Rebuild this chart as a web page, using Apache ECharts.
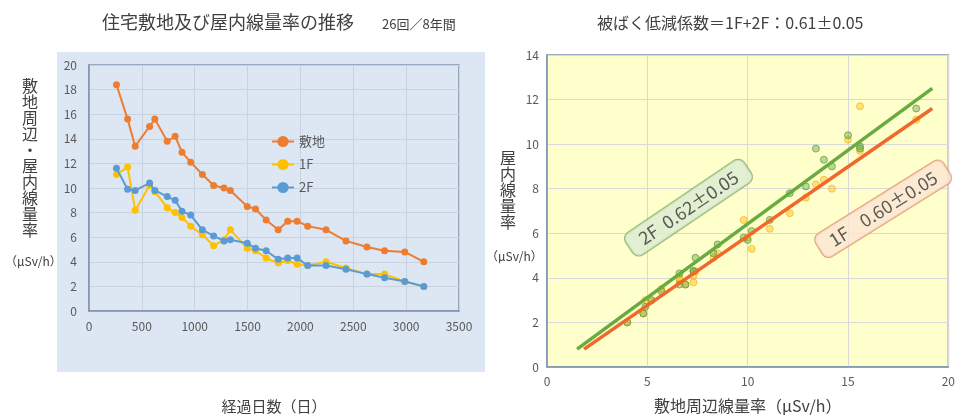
<!DOCTYPE html>
<html>
<head>
<meta charset="utf-8">
<script src="https://cdn.jsdelivr.net/npm/echarts@6/dist/echarts.min.js"></script>
<style>
  html, body { margin: 0; padding: 0; background: #ffffff; }
  #chart { width: 958px; height: 419px; }
</style>
</head>
<body>
<div id="chart"></div>
<script>
// Elapsed days of each of the 26 measurements
const days = [260, 365, 437, 573, 623, 740, 815, 880, 962, 1073, 1179, 1277, 1337,
              1497, 1575, 1676, 1790, 1880, 1969, 2069, 2242, 2431, 2629, 2796, 2987, 3167];
// Dose rate around the house site (μSv/h)
const siteRate = [18.4, 15.6, 13.4, 15.0, 15.6, 13.8, 14.2, 12.9, 12.1, 11.1, 10.2, 10.0, 9.8,
                  8.5, 8.3, 7.4, 6.6, 7.3, 7.3, 6.9, 6.6, 5.7, 5.2, 4.9, 4.8, 4.0];
// Indoor dose rate, 1st floor (μSv/h)
const floor1 = [11.1, 11.7, 8.2, 10.2, 9.7, 8.4, 8.0, 7.6, 6.9, 6.2, 5.3, 5.8, 6.6,
                5.1, 4.9, 4.3, 3.9, 4.1, 3.8, 3.7, 4.0, 3.5, 3.0, 3.0, 2.4, 2.0];
// Indoor dose rate, 2nd floor (μSv/h)
const floor2 = [11.6, 9.9, 9.8, 10.4, 9.8, 9.3, 9.0, 8.1, 7.8, 6.6, 6.1, 5.7, 5.8,
                5.5, 5.1, 4.9, 4.2, 4.3, 4.3, 3.7, 3.7, 3.4, 3.0, 2.7, 2.4, 2.0];
// Fitted lines of indoor vs. site rate (end points)
const fit2F = [[1.5, 0.8], [19.2, 12.5]];
const fit1F = [[1.85, 0.8], [19.2, 11.6]];
// Reduction factor labels and where they sit (data coords of right chart)
const label2F = '2F  0.62±0.05';
const label1F = '1F    0.60±0.05';
const label2FAt = [7.05, 7.15];
const label1FAt = [16.75, 7.1];

const FONT = '"Noto Sans CJK JP", "Noto Sans", sans-serif';
const TXT = '#595959';

const pair = (xs, ys) => xs.map((x, i) => [x, ys[i]]);

const chart = echarts.init(document.getElementById('chart'), null, { renderer: 'canvas' });

const vertical = s => s.split('').join('\n');

chart.setOption({
  animation: false,
  textStyle: { fontFamily: FONT },
  title: [
    { text: '住宅敷地及び屋内線量率の推移', left: 97, top: 8,
      textStyle: { fontSize: 18, fontWeight: 'normal', color: '#404040', fontFamily: FONT } },
    { text: '26回／8年間', left: 377, top: 13,
      textStyle: { fontSize: 13, fontWeight: 'normal', color: '#404040', fontFamily: FONT } },
    { text: '被ばく低減係数＝1F+2F：0.61±0.05', left: 592, top: 10,
      textStyle: { fontSize: 16, fontWeight: 'normal', color: '#404040', fontFamily: FONT } }
  ],
  graphic: [
    { type: 'rect', z: -10, shape: { x: 57, y: 52, width: 428, height: 320 },
      style: { fill: '#dde7f3' } },
    { type: 'text', left: 22, top: 78, z: 10,
      style: { text: vertical('敷地周辺・屋内線量率'), fill: '#404040', font: '16px ' + FONT,
               lineHeight: 16, align: 'center' } },
    { type: 'text', left: 5, top: 255, z: 10,
      style: { text: '（μSv/h）', fill: '#404040', font: '12px ' + FONT } },
    { type: 'text', left: 500, top: 150, z: 10,
      style: { text: vertical('屋内線量率'), fill: '#404040', font: '16px ' + FONT,
               lineHeight: 16, align: 'center' } },
    { type: 'text', left: 486, top: 250, z: 10,
      style: { text: '（μSv/h）', fill: '#404040', font: '12px ' + FONT } }
  ],
  legend: {
    data: ['敷地', '1F', '2F'],
    orient: 'vertical', left: 266, top: 130, itemGap: 10,
    itemWidth: 22, itemHeight: 14,
    textStyle: { color: TXT, fontSize: 13, fontFamily: FONT }
  },
  grid: [
    { left: 89, top: 65, width: 370, height: 248, show: true,
      borderColor: '#7f93b3', borderWidth: 1.5, backgroundColor: 'transparent' },
    { left: 547, top: 55, width: 410, height: 315, show: true,
      borderColor: '#8093ae', borderWidth: 1.5, backgroundColor: '#ffffcc' }
  ],
  xAxis: [
    { gridIndex: 0, type: 'value', min: 0, max: 3500, interval: 500,
      name: '経過日数（日）', nameLocation: 'middle', nameGap: 88,
      nameTextStyle: { fontSize: 15, color: '#404040', fontFamily: FONT },
      axisLine: { lineStyle: { color: '#7f93b3', width: 1.5 } },
      axisTick: { show: false },
      axisLabel: { color: TXT, fontSize: 12, margin: 9, formatter: v => String(v) },
      splitLine: { lineStyle: { color: '#c9d3df' } } },
    { gridIndex: 1, type: 'value', min: 0, max: 20, interval: 5,
      name: '敷地周辺線量率（μSv/h）', nameLocation: 'middle', nameGap: 31,
      nameTextStyle: { fontSize: 16, color: '#404040', fontFamily: FONT },
      axisLine: { lineStyle: { color: '#8093ae', width: 1.5 } },
      axisTick: { show: false },
      axisLabel: { color: TXT, fontSize: 12, margin: 8 },
      splitLine: { lineStyle: { color: '#d9d9d9' } } }
  ],
  yAxis: [
    { gridIndex: 0, type: 'value', min: 0, max: 20, interval: 2,
      axisLine: { show: true, lineStyle: { color: '#7f93b3', width: 1.5 } },
      axisTick: { show: false },
      axisLabel: { color: TXT, fontSize: 12, margin: 12 },
      splitLine: { lineStyle: { color: '#c9d3df' } } },
    { gridIndex: 1, type: 'value', min: 0, max: 14, interval: 2,
      axisLine: { show: true, lineStyle: { color: '#8093ae', width: 1.5 } },
      axisTick: { show: false },
      axisLabel: { color: TXT, fontSize: 12, margin: 8 },
      splitLine: { lineStyle: { color: '#d9d9d9' } } }
  ],
  series: [
    { name: '敷地', type: 'line', xAxisIndex: 0, yAxisIndex: 0,
      data: pair(days, siteRate), symbol: 'circle', symbolSize: 7,
      itemStyle: { color: '#ed7d31' }, lineStyle: { width: 2, color: '#ed7d31' }, z: 3 },
    { name: '1F', type: 'line', xAxisIndex: 0, yAxisIndex: 0,
      data: pair(days, floor1), symbol: 'circle', symbolSize: 7,
      itemStyle: { color: '#ffc000' }, lineStyle: { width: 2, color: '#ffc000' }, z: 4 },
    { name: '2F', type: 'line', xAxisIndex: 0, yAxisIndex: 0,
      data: pair(days, floor2), symbol: 'circle', symbolSize: 7,
      itemStyle: { color: '#5b9bd5' }, lineStyle: { width: 2, color: '#5b9bd5' }, z: 5 },

    // Indoor vs. site rate
    { name: '1F散布', type: 'scatter', xAxisIndex: 1, yAxisIndex: 1,
      data: pair(siteRate, floor1), symbolSize: 7,
      itemStyle: { color: 'rgba(255,192,0,0.55)', borderColor: 'rgba(240,170,40,0.8)', borderWidth: 1 }, z: 3 },
    { name: '2F散布', type: 'scatter', xAxisIndex: 1, yAxisIndex: 1,
      data: pair(siteRate, floor2), symbolSize: 7,
      itemStyle: { color: 'rgba(112,173,71,0.6)', borderColor: 'rgba(90,150,60,0.85)', borderWidth: 1 }, z: 4 },
    { name: '1F近似', type: 'line', xAxisIndex: 1, yAxisIndex: 1,
      data: fit1F, symbol: 'none', lineStyle: { width: 3.5, color: '#f0682a' }, z: 5 },
    { name: '2F近似', type: 'line', xAxisIndex: 1, yAxisIndex: 1,
      data: fit2F, symbol: 'none', lineStyle: { width: 3.5, color: '#6aab3f' }, z: 6 },

    // Reduction factor callouts, rotated along the fitted lines
    { name: '2F係数', type: 'scatter', xAxisIndex: 1, yAxisIndex: 1,
      data: [label2FAt], symbolSize: 0, z: 8, silent: true,
      label: { show: true, position: 'inside', rotate: 34, formatter: label2F,
               fontSize: 18, color: '#333333', fontFamily: FONT,
               backgroundColor: '#dcebd2', borderColor: '#7fae66', borderWidth: 1.2,
               borderRadius: 7, padding: [4, 13, 4, 13] } },
    { name: '1F係数', type: 'scatter', xAxisIndex: 1, yAxisIndex: 1,
      data: [label1FAt], symbolSize: 0, z: 8, silent: true,
      label: { show: true, position: 'inside', rotate: 32, formatter: label1F,
               fontSize: 18, color: '#333333', fontFamily: FONT,
               backgroundColor: '#fbe6d3', borderColor: '#e3906a', borderWidth: 1.2,
               borderRadius: 7, padding: [4, 13, 4, 13] } }
  ]
});
</script>
</body>
</html>
